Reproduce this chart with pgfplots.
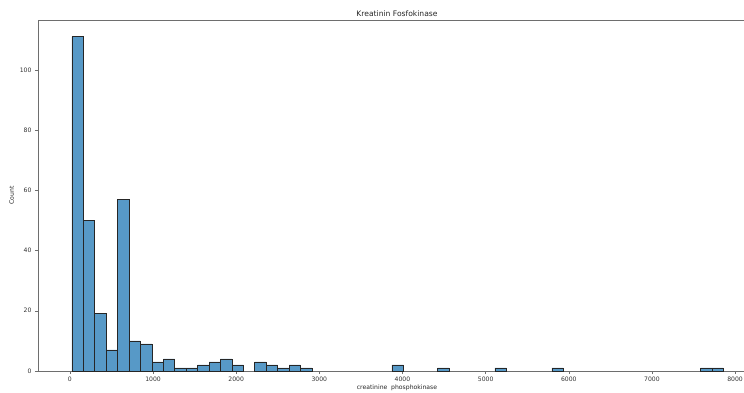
\documentclass[border=0pt]{standalone}
\usepackage{fontspec}
\setmainfont{DejaVu Sans}
\usepackage{pgfplots}
\pgfplotsset{compat=1.18}
\definecolor{sbblue}{RGB}{87,153,199}
\definecolor{spine}{RGB}{110,110,110}
\begin{document}
\begin{tikzpicture}
\begin{axis}[
  scale only axis,
  width=718pt, height=351pt,
  xmin=-384, xmax=8252,
  ymin=0, ymax=116.55,
  xtick pos=bottom, ytick pos=left,
  xtick={0,1000,...,8000},
  ytick={0,20,...,100},
  tick align=outside,
  major tick length=3pt,
  every tick/.style={spine, line width=0.5pt},
  axis line style={spine, line width=0.7pt},
  tick label style={font=\fontsize{6.1}{7}\selectfont, text=black!80},
  xticklabel style={yshift=1pt},
  /pgf/number format/assume math mode=true,
  /pgf/number format/set thousands separator={},
  scaled x ticks=false,
  xlabel={creatinine\ \ phosphokinase},
  ylabel={Count},
  label style={font=\fontsize{6.1}{7}\selectfont, text=black!85},
  xlabel style={yshift=3pt},
  ylabel style={yshift=-1pt},
  title={Kreatinin Fosfokinase},
  title style={font=\fontsize{7.6}{8}\selectfont, text=black!85, yshift=-6pt},
]
\addplot[ybar, bar width=137.5, bar shift=0pt, fill=sbblue, draw=black!85, line width=0.6pt]
coordinates {
(91.75,111) (229.25,50) (366.75,19) (504.25,7) (641.75,57) (779.25,10)
(916.75,9) (1054.25,3) (1191.75,4) (1329.25,1) (1466.75,1) (1604.25,2)
(1741.75,3) (1879.25,4) (2016.75,2) (2291.75,3) (2429.25,2) (2566.75,1)
(2704.25,2) (2841.75,1) (3941.75,2) (4491.75,1) (5179.25,1) (5866.75,1)
(7654.25,1) (7791.75,1)
};
\end{axis}
\pgfresetboundingbox
\useasboundingbox ([shift={(-38pt,-21pt)}]current axis.south west) rectangle ([shift={(706pt,20pt)}]current axis.north west);
\end{tikzpicture}
\end{document}
